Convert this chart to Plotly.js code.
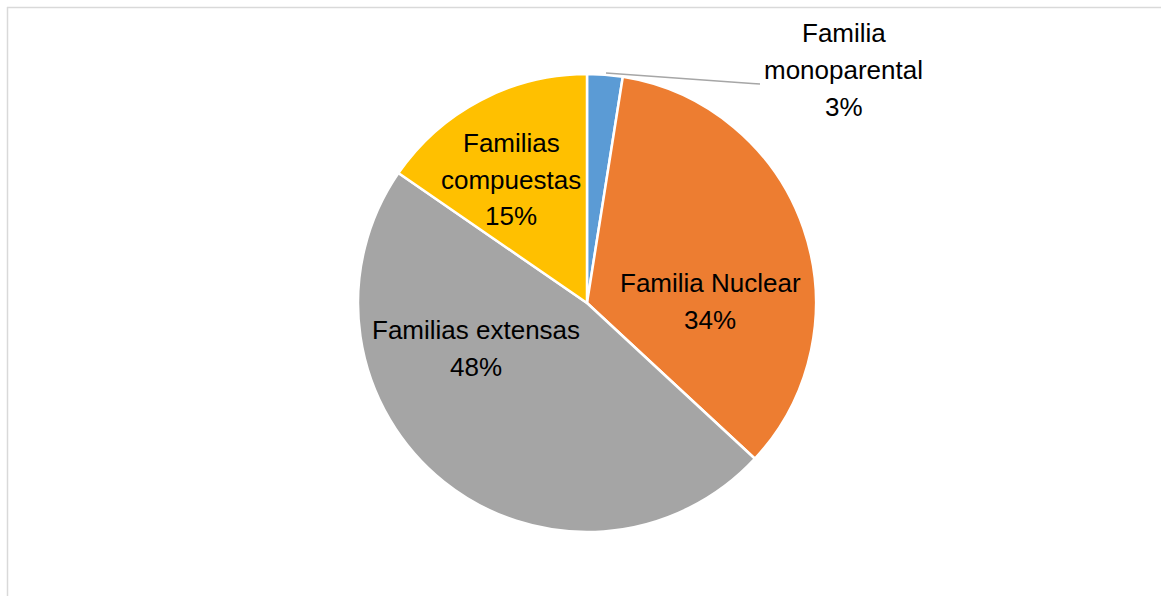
<!DOCTYPE html>
<html>
<head>
<meta charset="utf-8">
<script src="https://cdn.plot.ly/plotly-3.0.1.min.js"></script>
<style>
  html, body { margin: 0; padding: 0; background: #ffffff; }
  #chart { width: 1161px; height: 596px; }
</style>
</head>
<body>
<div id="chart"></div>
<script>
// Data
var categories = ["Familia monoparental", "Familia Nuclear", "Familias extensas", "Familias compuestas"];
var values = [2.5, 34.4, 47.7, 15.4];
var percentLabels = ["3%", "34%", "48%", "15%"];
var labelLines = [
  ["Familia", "monoparental"],
  ["Familia Nuclear"],
  ["Familias extensas"],
  ["Familias", "compuestas"]
];
var colors = ["#5B9BD5", "#ED7D31", "#A5A5A5", "#FFC000"];

var W = 1161, H = 596;
function px(x) { return x / W; }
function py(y) { return 1 - y / H; }

// label block centres (layout, in pixels)
var labelPos = [
  [844, 70],
  [710, 301.5],
  [476, 348.5],
  [511, 179.5]
];
var lineStep = 36.5;

var annotations = [];
categories.forEach(function (c, i) {
  var lines = labelLines[i].concat([percentLabels[i]]);
  var n = lines.length;
  lines.forEach(function (t, k) {
    annotations.push({
      xref: "paper", yref: "paper",
      x: px(labelPos[i][0]),
      y: py(labelPos[i][1] + (k - (n - 1) / 2) * lineStep),
      xanchor: "center", yanchor: "middle",
      showarrow: false, align: "center",
      text: t,
      font: { family: "Liberation Sans, Arial, sans-serif", size: 26, color: "#000000" }
    });
  });
});

var cx = 587, cy = 303, r = 229;

var trace = {
  type: "pie",
  labels: categories,
  values: values,
  sort: false,
  direction: "clockwise",
  rotation: 0,
  textinfo: "none",
  hoverinfo: "label+percent",
  marker: { colors: colors, line: { color: "#ffffff", width: 2.5 } },
  domain: { x: [px(cx - r), px(cx + r)], y: [py(cy + r), py(cy - r)] },
  showlegend: false
};

var layout = {
  width: W, height: H,
  margin: { l: 0, r: 0, t: 0, b: 0 },
  paper_bgcolor: "#ffffff",
  showlegend: false,
  annotations: annotations,
  shapes: [
    { type: "line", xref: "paper", yref: "paper", x0: px(7), x1: 1, y0: py(7.5), y1: py(7.5),
      line: { color: "#D9D9D9", width: 1.5 } },
    { type: "line", xref: "paper", yref: "paper", x0: px(7.5), x1: px(7.5), y0: py(7), y1: 0,
      line: { color: "#D9D9D9", width: 1.5 } },
    { type: "path", xref: "paper", yref: "paper",
      path: "M " + px(606) + "," + py(73) + " L " + px(752) + "," + py(83.5) + " L " + px(760) + "," + py(84),
      line: { color: "#A6A6A6", width: 1.5 } }
  ]
};

Plotly.newPlot("chart", [trace], layout, { displayModeBar: false, staticPlot: true });
</script>
</body>
</html>
